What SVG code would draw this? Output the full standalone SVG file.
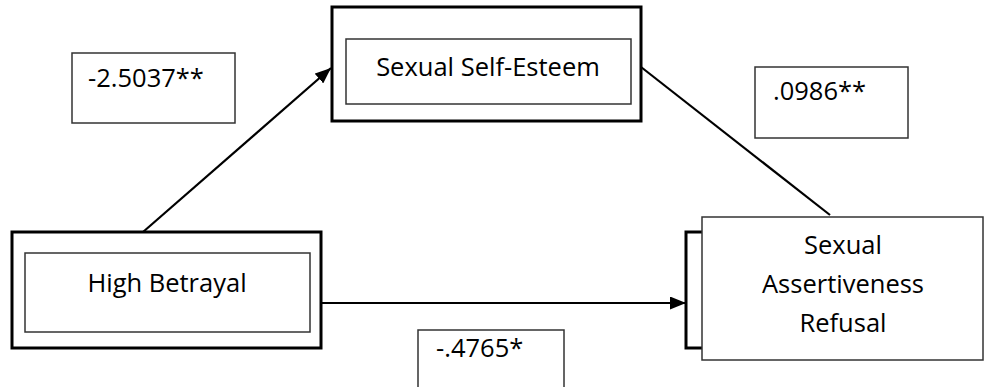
<svg xmlns="http://www.w3.org/2000/svg" width="985" height="387" viewBox="0 0 985 387">
  <style>
    .outer { fill: #fff; stroke: #000; stroke-width: 3; }
    .inner { fill: #fff; stroke: #333; stroke-width: 1.5; }
    .lbl { fill: #fff; stroke: #333; stroke-width: 1.5; }
    .wire { fill: none; stroke: #000; stroke-width: 2.2; }
    text { font-family: "Open Sans", "Noto Sans", sans-serif; font-size: 25.5px; fill: #000; }
    .mid { text-anchor: middle; }
  </style>
  <defs>
    <marker id="arrow" viewBox="0 0 16 13" refX="16" refY="6.5" markerWidth="16" markerHeight="13" markerUnits="userSpaceOnUse" orient="auto">
      <path d="M0,0 L16,6.5 L0,13 Z" fill="#000"/>
    </marker>
  </defs>

  <!-- connectors -->
  <g id="connectors">
    <line class="wire" x1="143" y1="232" x2="331" y2="68" marker-end="url(#arrow)"/>
    <line class="wire" x1="641" y1="67" x2="830" y2="215"/>
    <line class="wire" x1="322" y1="303" x2="686" y2="303" marker-end="url(#arrow)"/>
  </g>

  <!-- path coefficient labels -->
  <g id="coef-a">
    <rect class="lbl" x="72" y="53" width="163" height="70"/>
    <text x="88" y="87">-2.5037**</text>
  </g>
  <g id="coef-b">
    <rect class="lbl" x="755" y="67" width="153" height="71"/>
    <text x="773" y="100">.0986**</text>
  </g>
  <g id="coef-c">
    <rect class="lbl" x="418" y="330" width="146" height="70"/>
    <text x="436" y="357">-.4765*</text>
  </g>

  <!-- nodes -->
  <g id="self-esteem">
    <rect class="outer" x="332" y="7" width="309" height="114"/>
    <rect class="inner" x="346" y="39" width="285" height="65"/>
    <text class="mid" x="488" y="76">Sexual Self-Esteem</text>
  </g>

  <g id="high-betrayal">
    <rect class="outer" x="12" y="232" width="309" height="116"/>
    <rect class="inner" x="25" y="253" width="285" height="79"/>
    <text class="mid" x="167" y="292">High Betrayal</text>
  </g>

  <g id="assertiveness-refusal">
    <rect class="outer" x="686" y="232" width="260" height="116"/>
    <rect class="inner" x="702" y="217" width="281" height="143"/>
    <text class="mid" x="843" y="254">Sexual</text>
    <text class="mid" x="843" y="293">Assertiveness</text>
    <text class="mid" x="843" y="332">Refusal</text>
  </g>
</svg>
